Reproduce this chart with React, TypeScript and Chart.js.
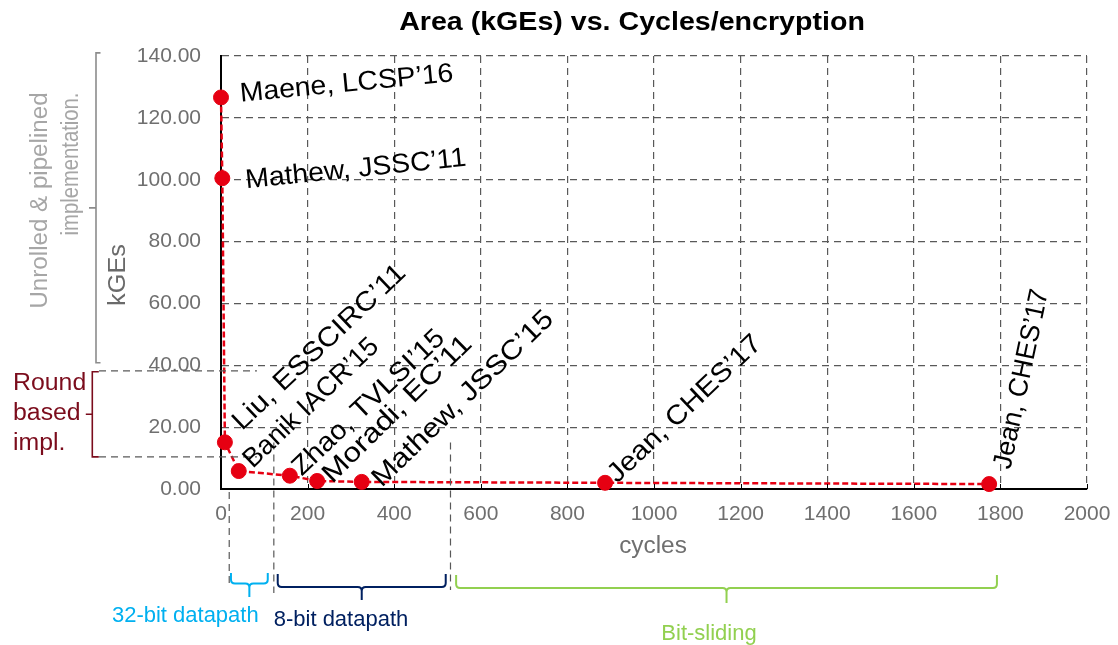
import React, { useEffect, useRef } from "react";
import { Chart, registerables } from "chart.js";

Chart.register(...registerables);

// ---------- data ----------
const pointLabels = [
  "Maene, LCSP’16",
  "Mathew, JSSC’11",
  "Liu, ESSCIRC’11",
  "Banik IACR’15",
  "Zhao, TVLSI’15",
  "Moradi, EC’11",
  "Mathew, JSSC’15",
  "Jean, CHES’17",
  "Jean, CHES’17",
];
const cycles = [0, 3, 9, 41, 159, 222, 325, 887, 1774];
const kGEs = [126.6, 100.5, 15.1, 5.8, 4.3, 2.6, 2.3, 2.0, 1.6];

const xTickValues = [0, 200, 400, 600, 800, 1000, 1200, 1400, 1600, 1800, 2000];
const yTickValues = [0, 20, 40, 60, 80, 100, 120, 140];

const groupNames = ["32-bit datapath", "8-bit datapath", "Bit-sliding"];
const groupFrom = [23, 131, 543];
const groupTo = [108, 519, 1792];

const bandNames = ["Unrolled & pipelined implementation.", "Round based impl."];
const bandFrom = [141, 37.9];
const bandTo = [40.8, 10.4];

// ---------- styles ----------
const FONT = "'Liberation Sans', Arial, Helvetica, sans-serif";
const RED = "#E60012";
const GRID = "#595959";
const TICK = "#6f6f6f";
const groupColors = ["#00B0F0", "#002060", "#92D050"];

const labelDx = [19.7, 24, 17, 14, 12, 15, 20, 12, 21];
const labelDy = [4.4, 10, -11, -2, 1, 3, 6, 1, -14];
const labelAngle = [-5.5, -5.8, -43.5, -43.5, -43.5, -44.5, -44, -43.5, -78];
const labelSx = [1.05, 1.05, 1.11, 1.0, 1.06, 1.17, 1.13, 1.09, 0.99];

function txt(
  ctx: CanvasRenderingContext2D,
  s: string,
  x: number,
  y: number,
  o: { font: string; color: string; angle?: number; sx?: number; align?: CanvasTextAlign; baseline?: CanvasTextBaseline }
) {
  ctx.save();
  ctx.translate(x, y);
  ctx.rotate(((o.angle || 0) * Math.PI) / 180);
  ctx.scale(o.sx || 1, 1);
  ctx.font = o.font;
  ctx.fillStyle = o.color;
  ctx.textAlign = o.align || "left";
  ctx.textBaseline = o.baseline || "alphabetic";
  ctx.fillText(s, 0, 0);
  ctx.restore();
}

function dashedLine(ctx: CanvasRenderingContext2D, x1: number, y1: number, x2: number, y2: number) {
  ctx.save();
  ctx.strokeStyle = GRID;
  ctx.lineWidth = 1.2;
  ctx.setLineDash([7, 5]);
  ctx.beginPath();
  ctx.moveTo(x1, y1);
  ctx.lineTo(x2, y2);
  ctx.stroke();
  ctx.restore();
}

function hBrace(ctx: CanvasRenderingContext2D, x1: number, x2: number, yTop: number, yLine: number, yTip: number, color: string) {
  const r = 4;
  const xc = (x1 + x2) / 2;
  ctx.save();
  ctx.strokeStyle = color;
  ctx.lineWidth = 2;
  ctx.beginPath();
  ctx.moveTo(x1, yTop);
  ctx.lineTo(x1, yLine - r);
  ctx.quadraticCurveTo(x1, yLine, x1 + r, yLine);
  ctx.lineTo(xc - r, yLine);
  ctx.quadraticCurveTo(xc, yLine, xc, yLine + r);
  ctx.lineTo(xc, yTip);
  ctx.moveTo(xc, yLine + r);
  ctx.quadraticCurveTo(xc, yLine, xc + r, yLine);
  ctx.lineTo(x2 - r, yLine);
  ctx.quadraticCurveTo(x2, yLine, x2, yLine - r);
  ctx.lineTo(x2, yTop);
  ctx.stroke();
  ctx.restore();
}

function vBrace(ctx: CanvasRenderingContext2D, x: number, y1: number, y2: number, hook: number, tip: number, color: string) {
  const yc = (y1 + y2) / 2;
  ctx.save();
  ctx.strokeStyle = color;
  ctx.lineWidth = 1.6;
  ctx.beginPath();
  ctx.moveTo(x + hook, y1);
  ctx.lineTo(x, y1);
  ctx.lineTo(x, y2);
  ctx.lineTo(x + hook, y2);
  ctx.moveTo(x, yc);
  ctx.lineTo(x - tip, yc);
  ctx.stroke();
  ctx.restore();
}

const annotations = {
  id: "annotations",
  afterDraw(chart: any) {
    const ctx: CanvasRenderingContext2D = chart.ctx;
    const xs = chart.scales.x;
    const ys = chart.scales.y;
    const area = chart.chartArea;

    // title
    txt(ctx, "Area (kGEs) vs. Cycles/encryption", 632, 30, {
      font: `bold 26px ${FONT}`,
      color: "#000",
      sx: 1.1,
      align: "center",
    });

    // inward tick marks on x axis
    ctx.save();
    ctx.strokeStyle = "#000";
    ctx.lineWidth = 1;
    xTickValues.forEach((v) => {
      const px = Math.round(xs.getPixelForValue(v)) + 0.5;
      ctx.beginPath();
      ctx.moveTo(px, area.bottom);
      ctx.lineTo(px, area.bottom - 5);
      ctx.stroke();
    });
    ctx.restore();

    // axis titles
    txt(ctx, "cycles", (area.left + area.right) / 2 - 1, 553, {
      font: `23px ${FONT}`,
      color: TICK,
      sx: 1.06,
      align: "center",
    });
    txt(ctx, "kGEs", 119, 275, {
      font: `23px ${FONT}`,
      color: "#6a6a6a",
      angle: -90,
      sx: 1.1,
      align: "center",
      baseline: "middle",
    });

    // left braces
    const gTop = ys.getPixelForValue(bandFrom[0]);
    const gBot = ys.getPixelForValue(bandTo[0]);
    vBrace(ctx, 96, gTop, gBot, 4.5, 7, "#8c8c8c");
    txt(ctx, "Unrolled & pipelined", 40.5, 200.5, {
      font: `23px ${FONT}`,
      color: "#a6a6a6",
      angle: -90,
      sx: 1.05,
      align: "center",
      baseline: "middle",
    });
    txt(ctx, "implementation.", 71.5, 164, {
      font: `23px ${FONT}`,
      color: "#a6a6a6",
      angle: -90,
      sx: 0.88,
      align: "center",
      baseline: "middle",
    });

    const rTop = ys.getPixelForValue(bandFrom[1]);
    const rBot = ys.getPixelForValue(bandTo[1]);
    const RC = "#7B0C1C";
    vBrace(ctx, 92.3, rTop, rBot, 6.5, 6.5, RC);
    dashedLine(ctx, 99, rTop - 1, xs.getPixelForValue(83), rTop - 1);
    dashedLine(ctx, 99, rBot, xs.getPixelForValue(83), rBot);
    const roundWords = bandNames[1].split(" ");
    [390, 420, 449.5].forEach((by, i) => {
      txt(ctx, roundWords[i], 13, by, { font: `23px ${FONT}`, color: RC, sx: 1.08 });
    });

    // vertical dashed separators below the axis
    dashedLine(ctx, xs.getPixelForValue(19), area.bottom + 3, xs.getPixelForValue(19), 583);
    dashedLine(ctx, xs.getPixelForValue(122), ys.getPixelForValue(15), xs.getPixelForValue(122), 593);
    dashedLine(ctx, xs.getPixelForValue(530), ys.getPixelForValue(15), xs.getPixelForValue(530), 590);

    // bottom braces + labels
    const braceTop = [573, 574, 575];
    const braceLine = [583.5, 587, 588];
    const braceTip = [597, 600, 603];
    const labelX = [185.3, 341, 709];
    const labelY = [621.7, 625.7, 639.5];
    groupNames.forEach((name, i) => {
      hBrace(
        ctx,
        xs.getPixelForValue(groupFrom[i]),
        xs.getPixelForValue(groupTo[i]),
        braceTop[i],
        braceLine[i],
        braceTip[i],
        groupColors[i]
      );
      txt(ctx, name, labelX[i], labelY[i], { font: `22px ${FONT}`, color: groupColors[i], align: "center" });
    });

    // point labels
    pointLabels.forEach((s, i) => {
      const px = xs.getPixelForValue(cycles[i]);
      const py = ys.getPixelForValue(kGEs[i]);
      txt(ctx, s, px + labelDx[i], py + labelDy[i], {
        font: `27px ${FONT}`,
        color: "#000",
        angle: labelAngle[i],
        sx: labelSx[i],
      });
    });
  },
};

export default function App() {
  const ref = useRef<HTMLCanvasElement | null>(null);

  useEffect(() => {
    if (!ref.current) return;
    const chart = new Chart(ref.current, {
      type: "scatter",
      data: {
        datasets: [
          {
            data: cycles.map((x, i) => ({ x, y: kGEs[i] })),
            showLine: true,
            borderColor: RED,
            backgroundColor: RED,
            borderWidth: 2.5,
            borderDash: [6, 3],
            pointRadius: 7.5,
            pointBorderWidth: 1,
            pointBackgroundColor: RED,
            pointBorderColor: RED,
            clip: false as any,
            tension: 0,
          } as any,
        ],
      },
      options: {
        animation: false,
        responsive: false,
        devicePixelRatio: 1,
        layout: { padding: { top: 56, right: 31, bottom: 0, left: 0 } },
        plugins: {
          legend: { display: false },
          tooltip: { enabled: false },
          title: { display: false },
        },
        scales: {
          x: {
            type: "linear",
            min: 0,
            max: 2000,
            afterBuildTicks: (s: any) => {
              s.ticks = xTickValues.map((value) => ({ value }));
            },
            afterFit: (s: any) => {
              s.height = 156;
              s.paddingLeft = 0;
              s.paddingRight = 0;
            },
            grid: {
              color: (c: any) => (c.index === 0 ? "rgba(0,0,0,0)" : GRID),
              lineWidth: 1.2,
              drawTicks: false,
            },
            border: { display: true, color: "#000", width: 2, dash: [7, 5] },
            ticks: {
              font: { family: FONT, size: 21 },
              color: TICK,
              padding: 13,
              maxRotation: 0,
              autoSkip: false,
              callback: (v: any) => String(v),
            },
          },
          y: {
            type: "linear",
            min: 0,
            max: 140,
            afterBuildTicks: (s: any) => {
              s.ticks = yTickValues.map((value) => ({ value }));
            },
            afterFit: (s: any) => {
              s.width = 221;
              s.paddingTop = 0;
              s.paddingBottom = 0;
            },
            grid: {
              color: (c: any) => (c.index === 0 ? "rgba(0,0,0,0)" : GRID),
              lineWidth: 1.2,
              drawTicks: false,
            },
            border: { display: true, color: "#000", width: 2, dash: [7, 5] },
            ticks: {
              font: { family: FONT, size: 21 },
              color: TICK,
              padding: 20,
              autoSkip: false,
              callback: (v: any) => Number(v).toFixed(2),
            },
          },
        },
      } as any,
      plugins: [annotations],
    });
    return () => chart.destroy();
  }, []);

  return (
    <div style={{ position: "absolute", left: 0, top: 0, width: 1118, height: 645, background: "#fff" }}>
      <canvas ref={ref} width={1118} height={645} style={{ display: "block", width: 1118, height: 645 }} />
    </div>
  );
}
